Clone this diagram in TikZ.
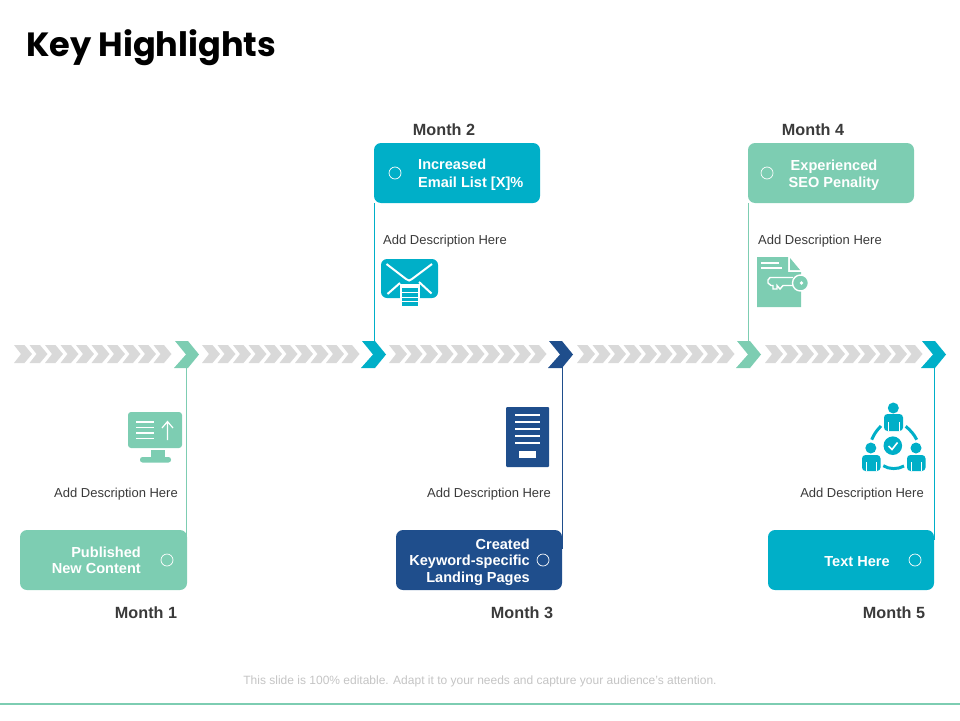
\documentclass[tikz,border=0pt]{standalone}
\usepackage{fontspec}
\setmainfont{Liberation Sans}
\newfontfamily\titlefont{Poppins}
\definecolor{mint}{HTML}{7DCDB2}
\definecolor{teal}{HTML}{00AFC8}
\definecolor{navy}{HTML}{1F4E8C}
\definecolor{lightgrey}{HTML}{D9D9D9}
\definecolor{darktext}{HTML}{3A3A3A}
\definecolor{notetext}{HTML}{C4C4C4}
\tikzset{
  card/.style={rounded corners=7pt,minimum width=166pt,minimum height=60pt,inner sep=0pt},
  cardtext/.style={text=white,font=\fontsize{14.55}{#1}\selectfont\bfseries,inner sep=0pt},
  cardtext/.default=16.5,
  dot/.style={circle,draw=white,minimum size=12pt,inner sep=0pt,line width=0.7pt},
  month/.style={text=darktext,font=\fontsize{16.2}{18}\selectfont\bfseries,inner sep=0pt},
  desc/.style={text=darktext,font=\fontsize{13}{15}\selectfont,inner sep=0pt},
  link/.style={line width=1pt},
  iconline/.style={white,line width=2pt}
}
\newcommand{\bigchevron}[2]{\fill[#2] (#1+1,341) -- (#1+14,341) -- (#1+25,354.5) -- (#1+14,368) -- (#1,368) -- (#1+12,354.5) -- cycle;}
\begin{document}
\begin{tikzpicture}[x=1pt,y=-1pt]
\useasboundingbox (0,0) rectangle (960,720);
\node[anchor=west,inner sep=0pt,font=\titlefont\fontsize{33.6}{38}\selectfont\bfseries] (title) at (26,47.5) {Key Highlights};

% grey arrows
\foreach \start in {14,202,389,577,765}{
  \foreach \i in {0,...,9}{
    \fill[lightgrey] (\start+\i*15.5,345) -- ++(10.5,0) -- ++(7.5,9) -- ++(-7.5,9) -- ++(-10.5,0) -- ++(7,-9) -- cycle;
  }
}
\bigchevron{174}{mint}
\bigchevron{361}{teal}
\bigchevron{548}{navy}
\bigchevron{736}{mint}
\bigchevron{921}{teal}

\coordinate (chev1) at (186.5,367);
\coordinate (chev2) at (374.5,342);
\coordinate (chev3) at (562,367);
\coordinate (chev4) at (748.5,342);
\coordinate (chev5) at (934.5,367);
\coordinate (end1) at (186.5,540);
\coordinate (end3) at (562,549);
\coordinate (end5) at (934.5,540);

% cards
\node[card,fill=mint,minimum width=167pt] (card1) at (103.5,560) {};
\node[card,fill=teal] (card2) at (457,173) {};
\node[card,fill=navy] (card3) at (479,560) {};
\node[card,fill=mint] (card4) at (831,173) {};
\node[card,fill=teal] (card5) at (851,560) {};

\draw[link,mint] (chev1) -- (end1);
\draw[link,teal] (chev2) -- (card2.south -| chev2);
\draw[link,navy] (chev3) -- (end3);
\draw[link,mint] (chev4) -- (card4.south -| chev4);
\draw[link,teal] (chev5) -- (end5);

\node[dot] (dot1) at (167,560) {};
\node[dot] (dot2) at (395,173) {};
\node[dot] (dot3) at (543,560) {};
\node[dot] (dot4) at (767,173) {};
\node[dot] (dot5) at (915,560) {};

\node[cardtext,align=right,anchor=east] (text1) at (141,560.5) {Published\\New Content};
\node[cardtext=18,align=left,anchor=west] (text2) at (418,175) {Increased\\Email List [X]\%};
\node[cardtext,align=right,anchor=east] (text3) at (530,562) {Created\\Keyword-specific\\Landing Pages};
\node[cardtext,align=center] (text4) at (834,175) {Experienced\\SEO Penality};
\node[cardtext] (text5) at (857,562) {Text Here};

\node[month] (month1) at (146,612.5) {Month 1};
\node[month] (month2) at (444,129.5) {Month 2};
\node[month] (month3) at (522,612.5) {Month 3};
\node[month] (month4) at (813,129.5) {Month 4};
\node[month] (month5) at (894,612.5) {Month 5};

\node[desc,anchor=east] (desc1) at (178,494) {Add Description Here};
\node[desc,anchor=west] (desc2) at (383,241) {Add Description Here};
\node[desc,anchor=east] (desc3) at (551,494) {Add Description Here};
\node[desc,anchor=west] (desc4) at (758,241) {Add Description Here};
\node[desc,anchor=east] (desc5) at (924,494) {Add Description Here};

% monitor
\fill[mint,rounded corners=3pt] (128,412) rectangle (182,448);
\fill[mint] (151,450) rectangle (165,458);
\fill[mint,rounded corners=2.5pt] (140,457) rectangle (171,462.5);
\foreach \y in {422,427.5,433,438.5}{
  \draw[iconline,line width=1.7pt] (136,\y) -- (154,\y);
}
\draw[iconline,line width=1.2pt] (167.5,440) -- (167.5,422) (162,428) -- (167.5,421.5) -- (173,428);

% envelope
\fill[teal,rounded corners=6pt] (381,259) rectangle (438,298);
\draw[iconline] (386.5,264) -- (406,279) -- (409,280.5) -- (412,279) -- (432,264);
\draw[iconline] (387.5,294) -- (400,283) (431.5,293.5) -- (419,282);
\fill[white] (400,284) rectangle (420,307);
\foreach \y in {290,295,299.5,304}{
  \fill[teal] (402,\y-1.6) rectangle (418,\y+1.6);
}

% document
\fill[navy,rounded corners=1pt] (506,407) rectangle (549,467);
\foreach \y in {415,422,429,436,443}{
  \draw[iconline] (515,\y) -- (540,\y);
}
\fill[white] (519,451) rectangle (536,458);

% page with key
\fill[mint] (757,257) -- (788,257) -- (788,272) -- (801,272) -- (801,307) -- (757,307) -- cycle;
\fill[mint] (790,258) -- (800,270) -- (790,270) -- cycle;
\draw[iconline,line width=1.6pt] (761,263) -- (779,263) (761,268) -- (782,268);
\draw[white,line width=1.4pt] (793,277.5) -- (770,277.5) -- (768,280) -- (768,283) -- (771,285.5) -- (773,285.5) -- (773,289) -- (777,289) -- (777,285.5) -- (780,289) -- (783,285.5) -- (793,285.5);
\draw[white,line width=1.4pt,fill=mint] (800.5,283) circle[radius=8];
\fill[white] (801.5,283) circle[radius=1.8];

% team
\fill[teal] (892.8,445.7) circle[radius=9.3];
\draw[white,line width=1.6pt] (888.5,446) -- (892,449.5) -- (897.5,442.5);
\fill[teal] (893.3,408) circle[radius=5.5];
\fill[teal] (870.8,448) circle[radius=5.5];
\fill[teal] (916,448) circle[radius=5.5];
\fill[teal,rounded corners=3.5pt] (884,431) -- (884,414) -- (903,414) -- (903,431) -- cycle;
\fill[teal,rounded corners=3.5pt] (862,471) -- (862,455) -- (880.5,455) -- (880.5,471) -- cycle;
\fill[teal,rounded corners=3.5pt] (907,471) -- (907,455) -- (925.5,455) -- (925.5,471) -- cycle;
\draw[white,line width=0.5pt] (888,422) -- (888,431) (899,422) -- (899,431);
\draw[white,line width=0.5pt] (866,462) -- (866,471) (876.5,462) -- (876.5,471) (911,462) -- (911,471) (921.5,462) -- (921.5,471);
\draw[teal,line width=3pt] (871.7,439.7) .. controls (874,434) and (877,430) .. (881,426);
\draw[teal,line width=3pt] (905.7,426.3) .. controls (910,430) and (914,434) .. (916.7,439.7);
\draw[teal,line width=3pt] (883.3,465.7) .. controls (889,469.5) and (898,469.5) .. (904,466);

% footer
\node[inner sep=0pt,text=notetext,font=\fontsize{12}{14}\selectfont] (note) at (480,681.5) {This slide is 100\% editable. Adapt it to your needs and capture your audience's attention.};
\coordinate (rule1) at (0,703.5);
\coordinate (rule2) at (960,703.5);
\draw[mint,line width=2pt] (rule1) -- (rule2);
\end{tikzpicture}
\end{document}
